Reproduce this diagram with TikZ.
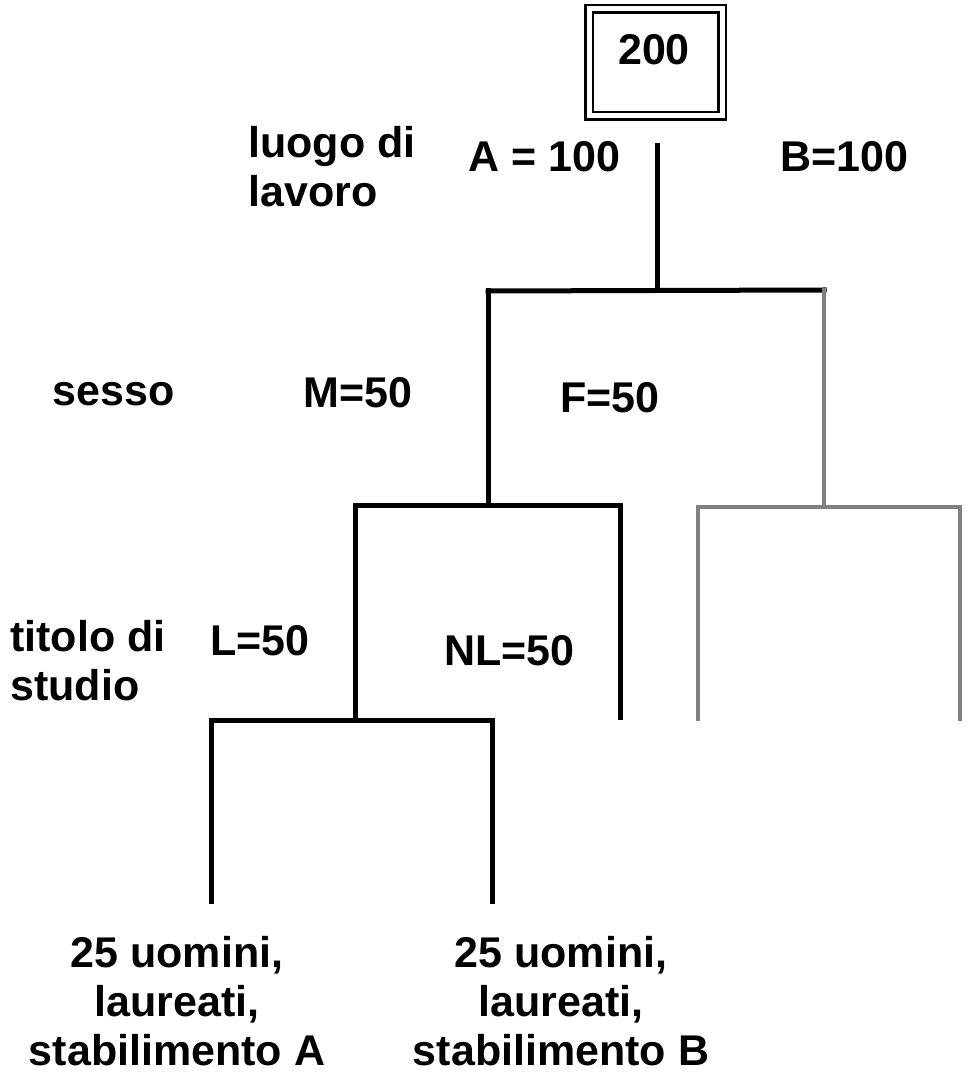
\documentclass[tikz,border=0pt]{standalone}
\usepackage{fontspec}
\setmainfont{Liberation Sans}
\begin{document}
\begin{tikzpicture}[x=0.5pt,y=-0.5pt,
  lbl/.style={font=\bfseries\fontsize{21.5pt}{24.5pt}\selectfont, inner sep=0pt},
  blk/.style={line width=2.5pt, black, line cap=rect},
  gry/.style={line width=2pt, black!50, line cap=rect}]
\useasboundingbox (0,0) rectangle (966,1074);
% top box
\node[draw, double, line width=1.25pt, double distance=2.5pt, minimum width=66.5pt, minimum height=53.5pt, inner sep=0pt] (root) at (655.5,62.5) {};
\node[lbl, anchor=base] (n200) at (654,65) {200};
% labels
\node[lbl, anchor=base west, align=left] (luogo) at (248,207) {luogo di\\lavoro};
\node[lbl, anchor=base west] (A) at (468,172) {A = 100};
\node[lbl, anchor=base west] (B) at (780,172) {B=100};
\node[lbl, anchor=base west] (sesso) at (52,406) {sesso};
\node[lbl, anchor=base west] (M) at (303,408) {M=50};
\node[lbl, anchor=base west] (F) at (560,413) {F=50};
\node[lbl, anchor=base west, align=left] (titolo) at (10,700) {titolo di\\studio};
\node[lbl, anchor=base west] (L) at (210,655) {L=50};
\node[lbl, anchor=base west] (NL) at (444,665) {NL=50};
\node[lbl, anchor=base, align=center] (sA) at (177,1065) {25 uomini,\\laureati,\\stabilimento A};
\node[lbl, anchor=base, align=center] (sB) at (561,1065) {25 uomini,\\laureati,\\stabilimento B};
% tree coordinates
\coordinate (t0) at (657,146);
\coordinate (t1) at (657,290);
\coordinate (h1l) at (488,291);
\coordinate (h1r) at (824,290);
\coordinate (m1) at (488,505);
\coordinate (g1) at (824,507);
\coordinate (h2l) at (355,505);
\coordinate (h2r) at (620,505);
\coordinate (v2l) at (355,720);
\coordinate (v2r) at (620,717);
\coordinate (g2l) at (698,507);
\coordinate (g2r) at (960,507);
\coordinate (g3l) at (698,719);
\coordinate (g3r) at (960,719);
\coordinate (h3l) at (211,720);
\coordinate (h3r) at (492,720);
\coordinate (e3l) at (211,901);
\coordinate (e3r) at (492,901);
% black tree
\draw[blk] (t0) -- (t1);
\draw[blk] (h1l) -- (h1r);
\draw[blk] (h1l) -- (m1);
\draw[blk] (h2l) -- (h2r);
\draw[blk] (h2l) -- (v2l);
\draw[blk] (h2r) -- (v2r);
\draw[blk] (h3l) -- (h3r);
\draw[blk] (h3l) -- (e3l);
\draw[blk] (h3r) -- (e3r);
% gray tree
\draw[gry] (h1r) -- (g1);
\draw[gry] (g2l) -- (g2r);
\draw[gry] (g2l) -- (g3l);
\draw[gry] (g2r) -- (g3r);
\end{tikzpicture}
\end{document}
